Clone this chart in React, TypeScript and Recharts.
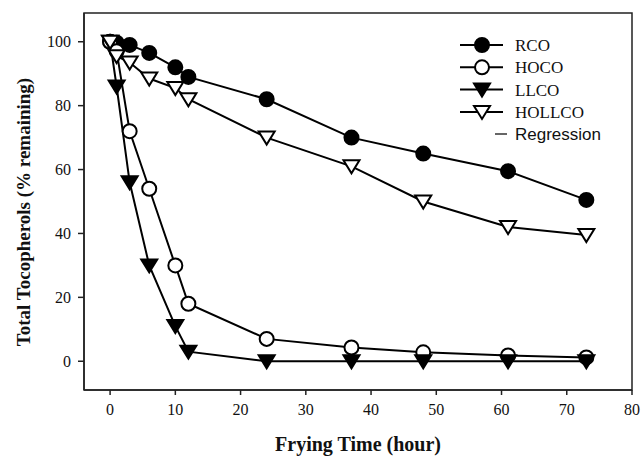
import React from 'react';
import { LineChart, Line, XAxis, YAxis, ReferenceArea, Legend, Label } from 'recharts';

// frying time (hour) and % tocopherols remaining
const hours = [0, 1, 3, 6, 10, 12, 24, 37, 48, 61, 73];
const rco = [100, 99.7, 99, 96.5, 92, 89, 82, 70, 65, 59.5, 50.5];
const hoco = [100, 97, 72, 54, 30, 18, 7, 4.3, 2.8, 1.8, 1.2];
const llco = [100, 86, 56, 30, 11, 3, 0, 0, 0, 0, 0];
const hollco = [100, 95.5, 93.5, 88.5, 85.5, 82, 70, 61, 50, 42, 39.5];

const xTicks = [0, 10, 20, 30, 40, 50, 60, 70, 80];
const yTicks = [0, 20, 40, 60, 80, 100];

const series = [
  { key: 'rco', name: 'RCO', shape: 'circle', filled: true },
  { key: 'hoco', name: 'HOCO', shape: 'circle', filled: false },
  { key: 'llco', name: 'LLCO', shape: 'triangle', filled: true },
  { key: 'hollco', name: 'HOLLCO', shape: 'triangle', filled: false },
];

const chartData = hours.map((t, i) => ({
  t,
  rco: rco[i],
  hoco: hoco[i],
  llco: llco[i],
  hollco: hollco[i],
}));

const serif = '"Liberation Serif", "Times New Roman", serif';
const sans = '"Liberation Sans", Arial, sans-serif';

const Marker = ({ cx, cy, shape, filled }: any) => {
  const fill = filled ? '#000' : '#fff';
  if (shape === 'circle') {
    return <circle cx={cx} cy={cy} r={7} fill={fill} stroke="#000" strokeWidth={2} />;
  }
  return (
    <path
      d={`M${cx - 8},${cy - 6} L${cx + 8},${cy - 6} L${cx},${cy + 7} Z`}
      fill={fill}
      stroke="#000"
      strokeWidth={2}
      strokeLinejoin="miter"
    />
  );
};

const LegendBox = () => (
  <svg width={190} height={120} style={{ display: 'block' }}>
    {series.map((s, i) => {
      const y = 15 + i * 22.3;
      return (
        <g key={s.key}>
          <line x1={10} x2={53} y1={y} y2={y} stroke="#000" strokeWidth={2} />
          <Marker cx={32} cy={y} shape={s.shape} filled={s.filled} />
          <text x={65} y={y + 6} fontFamily={serif} fontSize={17} fill="#111">
            {s.name}
          </text>
        </g>
      );
    })}
    <line x1={45} x2={57} y1={104} y2={104} stroke="#000" strokeWidth={1.2} />
    <text x={65} y={110} fontFamily={sans} fontSize={17} fill="#111">
      Regression
    </text>
  </svg>
);

export default function App() {
  return (
    <div style={{ position: 'absolute', left: 0, top: 0, width: 644, height: 460, background: '#fff' }}>
      <LineChart width={644} height={460} data={chartData} margin={{ top: 13, right: 12, left: 0, bottom: 0 }}>
        <XAxis
          dataKey="t"
          type="number"
          domain={[-4, 80]}
          ticks={xTicks}
          allowDataOverflow
          height={70}
          tickSize={5}
          tickMargin={9}
          stroke="#222"
          strokeWidth={1.5}
          tick={{ fill: '#111', fontFamily: serif, fontSize: 16 }}
        >
          <Label
            value="Frying Time (hour)"
            position="insideBottom"
            offset={9}
            style={{ fontFamily: serif, fontSize: 20, fontWeight: 'bold', fill: '#111' }}
          />
        </XAxis>
        <YAxis
          type="number"
          domain={[-9, 109]}
          ticks={yTicks}
          allowDataOverflow
          width={84}
          tickSize={6}
          tickMargin={7}
          stroke="#222"
          strokeWidth={1.5}
          tick={{ fill: '#111', fontFamily: serif, fontSize: 16 }}
        >
          <Label
            content={() => (
              <text
                x={23}
                y={212}
                transform="rotate(-90 23 212)"
                textAnchor="middle"
                dominantBaseline="central"
                fontFamily={serif}
                fontSize={19}
                fontWeight="bold"
                fill="#111"
              >
                Total Tocopherols (% remaining)
              </text>
            )}
          />
        </YAxis>
        <ReferenceArea x1={-4} x2={80} y1={-9} y2={109} fill="none" stroke="#222" strokeWidth={1.5} />
        <Legend
          layout="vertical"
          align="center"
          verticalAlign="middle"
          content={() => <LegendBox />}
          wrapperStyle={{ position: 'absolute', left: 450, top: 30, width: 190, height: 120 }}
        />
        {series.map((s) => (
          <Line
            key={s.key}
            dataKey={s.key}
            name={s.name}
            type="linear"
            stroke="#000"
            strokeWidth={2}
            isAnimationActive={false}
            dot={(p: any) => (
              <Marker key={`${s.key}-${p.index}`} cx={p.cx} cy={p.cy} shape={s.shape} filled={s.filled} />
            )}
          />
        ))}
      </LineChart>
    </div>
  );
}
